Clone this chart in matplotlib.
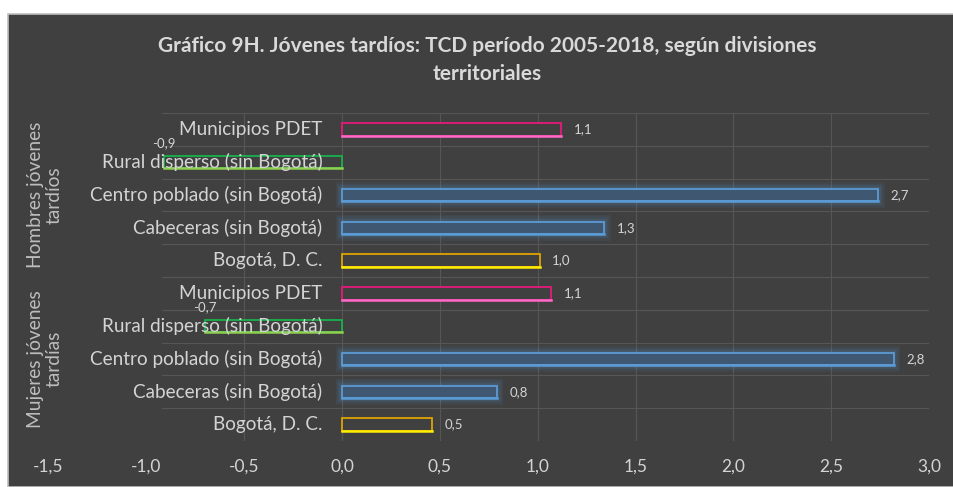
import matplotlib
matplotlib.use("Agg")
import matplotlib.pyplot as plt
from matplotlib.patches import Rectangle
from matplotlib.ticker import FuncFormatter
import numpy as np

# Datos
categorias = ["Municipios PDET", "Rural disperso (sin Bogotá)", "Centro poblado (sin Bogotá)",
              "Cabeceras (sin Bogotá)", "Bogotá, D. C."]
hombres = [1.12, -0.91, 2.74, 1.34, 1.01]
mujeres = [1.07, -0.70, 2.82, 0.79, 0.46]
grupos = ["Hombres jóvenes\ntardíos", "Mujeres jóvenes\ntardías"]
titulo = "Gráfico 9H. Jóvenes tardíos: TCD período 2005-2018, según divisiones\nterritoriales"

# estilos por categoría: (borde, borde inferior, relleno, brillo)
estilos = [("#e8197c", "#ff69c8", "#404040", False),
           ("#17b24a", "#8fd14f", "#404040", False),
           ("#5b9bd5", "#5b9bd5", "#3f5770", True),
           ("#5b9bd5", "#5b9bd5", "#3f5770", True),
           ("#e0a400", "#ffee00", "#404040", False)]

plt.rcParams['font.family'] = ['Lato', 'DejaVu Sans']
txt = "#d4d4d4"
fondo = "#404040"

fig = plt.figure(figsize=(9.54, 4.87), dpi=100)
fig.patch.set_facecolor("white")

# panel oscuro de fondo
bg = fig.add_axes([0, 0, 1, 1], zorder=-5)
bg.set_xlim(0, 954)
bg.set_ylim(487, 0)
bg.axis("off")
bg.add_patch(Rectangle((8, 14), 946, 473, facecolor=fondo, edgecolor="#bfbfbf", lw=1.2))

ax = fig.add_axes([48.6 / 954, 46 / 487, 880.4 / 954, 328 / 487])
ax.set_facecolor("none")
for s in ax.spines.values():
    s.set_visible(False)

valores = hombres + mujeres
n = len(valores)
ax.set_xlim(-1.5, 3.0)
ax.set_ylim(n - 0.5, -0.5)

# rejilla
for xv in np.arange(-0.5, 3.01, 0.5):
    ax.plot([xv, xv], [-0.5, n - 0.5], color="#565656", lw=0.8, zorder=1)
for yv in np.arange(-0.5, n, 1.0):
    ax.plot([-0.92, 3.0], [yv, yv], color="#565656", lw=0.8, zorder=1)

h = 0.38
ux = 4.5 / 880.4
uy = 1 / 32.8
for i, v in enumerate(valores):
    borde, borde_inf, relleno, brillo = estilos[i % 5]
    if brillo:
        for k in range(1, 6):
            ax.barh(i, v + 2 * k * 1.3 * ux, left=-k * 1.3 * ux, height=h + 2 * k * 1.3 * uy,
                    color="#5b9bd5", alpha=0.07, lw=0, zorder=2)
    ax.barh(i, v, height=h, color=relleno, edgecolor=borde, lw=1.3, zorder=3)
    ax.plot([0, v], [i + h / 2, i + h / 2], color=borde_inf, lw=1.8, zorder=4)
    etiqueta = f"{v:.1f}".replace(".", ",")
    if v >= 0:
        ax.annotate(etiqueta, (v, i), xytext=(9, 0), textcoords="offset points",
                    ha="left", va="center", color=txt, fontsize=9.5, zorder=5)
    else:
        ax.annotate(etiqueta, (v, i), xytext=(0, 14), textcoords="offset points",
                    ha="center", va="center", color=txt, fontsize=9.5, zorder=5)
    ax.annotate(categorias[i % 5], (0, i), xytext=(-14, 0), textcoords="offset points",
                ha="right", va="center", color=txt, fontsize=13.6, zorder=6)

# grupos
for g, nombre in enumerate(grupos):
    yc = g * 5 + 2
    fig.text(45 / 954, 1 - (113 + 32.8 * (yc + 0.5)) / 487, nombre, rotation=90,
             ha="center", va="center", multialignment="center", color="#bdbdbd",
             fontsize=13.8, linespacing=1.15)

ax.set_xticks(np.arange(-1.5, 3.01, 0.5))
ax.xaxis.set_major_formatter(FuncFormatter(lambda x, p: f"{x:.1f}".replace(".", ",")))
ax.tick_params(axis="x", length=0, pad=13, colors=txt, labelsize=12.5)
ax.set_yticks([])

fig.text(487 / 954, 1 - 60 / 487, titulo, ha="center", va="center", color="#d9d9d9",
         fontsize=15, weight="bold", linespacing=1.55)

fig.savefig("out.png", dpi=100, facecolor=fig.get_facecolor())
